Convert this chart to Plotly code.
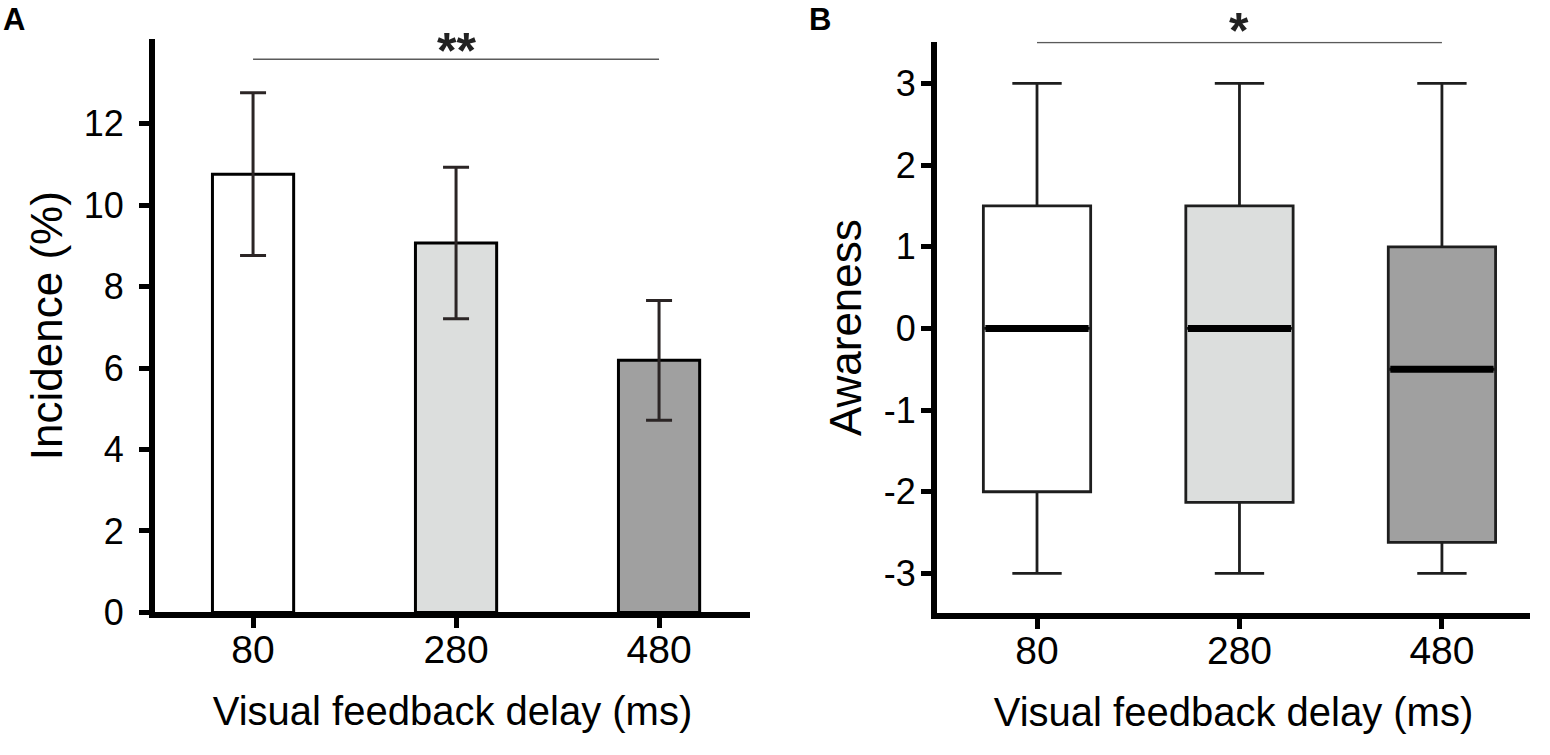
import plotly.graph_objects as go
from plotly.subplots import make_subplots

# data
delays = ["80", "280", "480"]
fills = ["#ffffff", "#dcdedd", "#a0a0a0"]

incidence = [10.76, 9.07, 6.19]
incidence_err = [2.0, 1.86, 1.47]
inc_ticks = [0, 2, 4, 6, 8, 10, 12]

aw_low = [-3, -3, -3]
aw_q1 = [-2.0, -2.13, -2.62]
aw_median = [0, 0, -0.5]
aw_q3 = [1.5, 1.5, 1.0]
aw_high = [3, 3, 3]
aw_ticks = [-3, -2, -1, 0, 1, 2, 3]
aw_ticktext = ["-3", "-2", "-1", "0", "1", "2", "3"]

sig_a = 13.58   # "**" bracket, panel A
sig_b = 3.50    # "*" bracket, panel B

# the figure fills the whole window; positions are given in window pixels
W, H = 1550, 755
FONT = "Liberation Sans, Arial, sans-serif"
BOX_W = 0.53


def fx(px):
    return px / W


def fy(py):
    return 1 - py / H


fig = make_subplots(rows=1, cols=2)

# panel A - bars with error bars
fig.add_trace(go.Bar(
    x=delays, y=incidence, width=0.4,
    marker=dict(color=fills, line=dict(color="black", width=3)),
    error_y=dict(type="data", array=incidence_err, visible=True,
                 color="#2b2525", thickness=3, width=13),
    showlegend=False, hoverinfo="skip"), row=1, col=1)

# panel B - box plots from the summary values
for i, d in enumerate(delays):
    fig.add_trace(go.Box(
        x=[d], q1=[aw_q1[i]], median=[aw_median[i]], q3=[aw_q3[i]],
        lowerfence=[aw_low[i]], upperfence=[aw_high[i]],
        width=BOX_W, whiskerwidth=0.46, fillcolor=fills[i],
        line=dict(color="#1e1e1e", width=2.8),
        boxpoints=False, showlegend=False, hoverinfo="skip"), row=1, col=2)

# thick median lines: flat boxes drawn over the real ones
for i, d in enumerate(delays):
    m = aw_median[i]
    fig.add_trace(go.Box(
        x=[d], q1=[m], median=[m], q3=[m], lowerfence=[m], upperfence=[m],
        width=BOX_W - 0.02, whiskerwidth=0, fillcolor="black",
        line=dict(color="black", width=7),
        boxpoints=False, showlegend=False, hoverinfo="skip"), row=1, col=2)

axis_common = dict(showline=True, linewidth=6, linecolor="black",
                   ticks="outside", ticklen=10, tickwidth=5, tickcolor="black",
                   showgrid=False, zeroline=False)

fig.update_xaxes(axis_common)
fig.update_yaxes(axis_common)

fig.update_layout(
    autosize=True,
    margin=dict(l=0, r=0, t=0, b=0),
    plot_bgcolor="white", paper_bgcolor="white",
    boxmode="overlay",
    font=dict(family=FONT, color="black"),
    xaxis=dict(domain=[fx(155), fx(750)], type="category", range=[-0.483, 2.448],
               tickfont=dict(size=39), ticklabelstandoff=-12,
               title=dict(text="Visual feedback delay (ms)", font=dict(size=40), standoff=29)),
    yaxis=dict(domain=[fy(630), fy(40)], range=[0, 14.08],
               tickvals=inc_ticks, tickfont=dict(size=36),
               ticklabelstandoff=8,
               title=dict(text="Incidence (%)", font=dict(size=44), standoff=9)),
    xaxis2=dict(domain=[fx(937), fx(1530)], type="category", range=[-0.494, 2.435],
                tickfont=dict(size=39), ticklabelstandoff=-12,
                title=dict(text="Visual feedback delay (ms)", font=dict(size=40), standoff=29)),
    yaxis2=dict(domain=[fy(631), fy(43)], range=[-3.49, 3.51],
                tickvals=aw_ticks, ticktext=aw_ticktext, tickfont=dict(size=36),
                ticklabelstandoff=-2,
                title=dict(text="Awareness", font=dict(size=44), standoff=10)),
)

# significance brackets (category axes: use positions of the categories)
first, mid, last = 0, delays.index("280"), len(delays) - 1
fig.add_shape(type="line", xref="x", yref="y", x0=first, x1=last,
              y0=sig_a, y1=sig_a, line=dict(color="#5a5a5a", width=1.5))
fig.add_shape(type="line", xref="x2", yref="y2", x0=first, x1=last,
              y0=sig_b, y1=sig_b, line=dict(color="#5a5a5a", width=1.5))
fig.add_annotation(xref="x", yref="y", x=mid, y=sig_a, text="<b>**</b>",
                   showarrow=False, yanchor="bottom", font=dict(size=50, color="#222"),
                   yshift=-22)
fig.add_annotation(xref="x2", yref="y2", x=mid, y=sig_b, text="<b>*</b>",
                   showarrow=False, yanchor="bottom", font=dict(size=50, color="#222"),
                   yshift=-18)

# panel letters
fig.add_annotation(xref="paper", yref="paper", x=fx(1), y=fy(20), text="<b>A</b>",
                   showarrow=False, xanchor="left", yanchor="middle", font=dict(size=31))
fig.add_annotation(xref="paper", yref="paper", x=fx(807), y=fy(20), text="<b>B</b>",
                   showarrow=False, xanchor="left", yanchor="middle", font=dict(size=31))

fig.write_html("out.html", config=dict(displayModeBar=False),
               default_width="100vw", default_height="100vh",
               post_script="document.body.style.margin='0px';"
                           "document.body.style.overflow='hidden';")
